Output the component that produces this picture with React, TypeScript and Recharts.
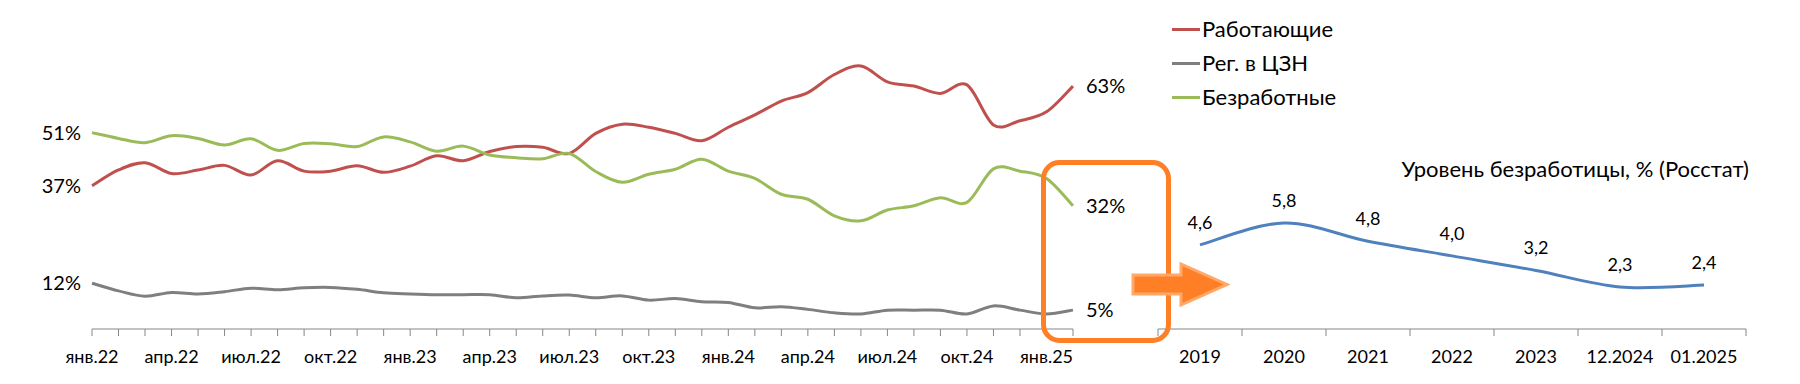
import { LineChart, Line, XAxis, YAxis, Legend, LabelList } from "recharts";

const FONT = "Lato, 'Open Sans', sans-serif";
const AXIS = "#868686";

const months = [
  "янв.22", "фев.22", "мар.22", "апр.22", "май.22", "июн.22", "июл.22", "авг.22", "сен.22", "окт.22", "ноя.22", "дек.22",
  "янв.23", "фев.23", "мар.23", "апр.23", "май.23", "июн.23", "июл.23", "авг.23", "сен.23", "окт.23", "ноя.23", "дек.23",
  "янв.24", "фев.24", "мар.24", "апр.24", "май.24", "июн.24", "июл.24", "авг.24", "сен.24", "окт.24", "ноя.24", "дек.24",
  "янв.25", "фев.25",
];
const working = [
  37.2, 41.3, 43.2, 40.4, 41.3, 42.5, 40.0, 43.7, 41.0, 41.0, 42.4, 40.7,
  42.3, 45.0, 43.7, 46.1, 47.4, 47.2, 45.6, 50.8, 53.2, 52.4, 50.8, 48.9,
  52.4, 55.6, 59.2, 61.4, 66.1, 68.3, 64.2, 63.1, 61.2, 63.4, 53.0, 54.1,
  56.4, 63.1,
];
const registered = [
  11.9, 9.9, 8.5, 9.5, 9.1, 9.7, 10.6, 10.2, 10.7, 10.8, 10.3, 9.4,
  9.1, 8.9, 8.9, 8.9, 8.1, 8.6, 8.8, 8.1, 8.6, 7.5, 7.9, 7.1,
  6.9, 5.5, 5.8, 5.1, 4.2, 3.9, 4.9, 4.9, 4.9, 3.9, 6.0, 4.9,
  3.9, 4.9,
];
const unemployed = [
  51.0, 49.5, 48.4, 50.2, 49.5, 47.8, 49.4, 46.4, 48.2, 48.1, 47.4, 49.9,
  48.6, 46.2, 47.5, 45.2, 44.5, 44.2, 45.6, 40.9, 38.1, 40.2, 41.5, 44.1,
  41.0, 39.1, 35.0, 33.7, 29.4, 28.1, 30.9, 32.0, 34.1, 32.9, 41.6, 41.0,
  39.1, 32.0,
];
const seriesNames = ["Работающие", "Рег. в ЦЗН", "Безработные"];

const years = ["2019", "2020", "2021", "2022", "2023", "12.2024", "01.2025"];
const rate = [4.6, 5.8, 4.8, 4.0, 3.2, 2.3, 2.4];

const monthlyData = months.map((m, i) => ({
  month: m,
  working: working[i],
  registered: registered[i],
  unemployed: unemployed[i],
}));
const rateData = years.map((y, i) => ({ year: y, rate: rate[i] }));

// Excel-like smoothed line (Catmull-Rom through the points)
const excelSmooth = (context: any) => {
  let pts: number[][] = [];
  return {
    areaStart() {},
    areaEnd() {},
    lineStart() {
      pts = [];
    },
    point(x: number, y: number) {
      pts.push([+x, +y]);
    },
    lineEnd() {
      if (!pts.length) return;
      context.moveTo(pts[0][0], pts[0][1]);
      for (let i = 0; i < pts.length - 1; i++) {
        const p0 = pts[Math.max(i - 1, 0)];
        const p1 = pts[i];
        const p2 = pts[i + 1];
        const p3 = pts[Math.min(i + 2, pts.length - 1)];
        context.bezierCurveTo(
          p1[0] + (p2[0] - p0[0]) / 6,
          p1[1] + (p2[1] - p0[1]) / 6,
          p2[0] - (p3[0] - p1[0]) / 6,
          p2[1] - (p3[1] - p1[1]) / 6,
          p2[0],
          p2[1]
        );
      }
    },
  };
};

const edgeLabel = (props: any) => {
  const { index, value } = props;
  const x = props.viewBox?.x ?? props.x;
  const y = props.viewBox?.y ?? props.y;
  if (index !== 0 && index !== months.length - 1) return null;
  const first = index === 0;
  return (
    <text
      key={index}
      x={first ? x - 11 : x + 13}
      y={y}
      dy={7}
      textAnchor={first ? "end" : "start"}
      fontSize={20}
      fontFamily={FONT}
      fill="#000"
    >
      {Math.round(value)}%
    </text>
  );
};

const rateLabel = (props: any) => {
  const x = props.viewBox?.x ?? props.x;
  const y = props.viewBox?.y ?? props.y;
  return (
    <text key={props.index} x={x} y={y - 16} textAnchor="middle" fontSize={18} fontFamily={FONT} fill="#000">
      {Number(props.value).toFixed(1).replace(".", ",")}
    </text>
  );
};

const RIGHT_STEP = 84;

const YearTick = (props: any) => {
  const { x, y, payload, index } = props;
  const half = RIGHT_STEP / 2;
  return (
    <g>
      <line x1={x - half} x2={x - half} y1={y - 9} y2={y - 2} stroke={AXIS} />
      {index === years.length - 1 && (
        <line x1={x + half} x2={x + half} y1={y - 9} y2={y - 2} stroke={AXIS} />
      )}
      <text x={x} y={y} dy={25} textAnchor="middle" fontSize={18} fontFamily={FONT} fill="#000">
        {payload.value}
      </text>
    </g>
  );
};

const LegendBox = (props: any) => {
  const items = [...(props.payload || [])].sort(
    (a: any, b: any) => seriesNames.indexOf(a.value) - seriesNames.indexOf(b.value)
  );
  return (
    <div>
      {items.map((p: any) => (
        <div key={p.value} style={{ display: "flex", alignItems: "center", height: 34 }}>
          <span style={{ width: 28, height: 3, background: p.color, display: "inline-block" }} />
          <span
            style={{
              marginLeft: 2,
              lineHeight: "34px",
              whiteSpace: "nowrap",
              fontFamily: FONT,
              fontSize: "22px",
              color: "#000",
            }}
          >
            {p.value}
          </span>
        </div>
      ))}
    </div>
  );
};

export default function App() {
  return (
    <div style={{ position: "absolute", left: 0, top: 0, width: 1800, height: 384, background: "#fff" }}>
      <div style={{ position: "absolute", left: 0, top: 0 }}>
        <LineChart width={1150} height={384} data={monthlyData} margin={{ top: 21, right: 77, bottom: 15, left: 92 }}>
          <XAxis
            dataKey="month"
            interval={0}
            height={40}
            stroke={AXIS}
            tickSize={7}
            tickMargin={14}
            tick={{ fontSize: 18, fill: "#000", fontFamily: FONT }}
            tickFormatter={(v: string, i: number) => (i % 3 === 0 ? v : "")}
          />
          <YAxis hide domain={[0, 80]} />
          <Legend
            layout="vertical"
            align="center"
            verticalAlign="middle"
            content={LegendBox}
            wrapperStyle={{ left: 1172, top: 12, width: 220, height: "auto" }}
          />
          <Line name={seriesNames[0]} dataKey="working" type={excelSmooth as any} stroke="#C0504D" strokeWidth={3} dot={false} activeDot={false} isAnimationActive={false}>
            <LabelList dataKey="working" content={edgeLabel} />
          </Line>
          <Line name={seriesNames[1]} dataKey="registered" type={excelSmooth as any} stroke="#7F7F7F" strokeWidth={3} dot={false} activeDot={false} isAnimationActive={false}>
            <LabelList dataKey="registered" content={edgeLabel} />
          </Line>
          <Line name={seriesNames[2]} dataKey="unemployed" type={excelSmooth as any} stroke="#9BBB59" strokeWidth={3} dot={false} activeDot={false} isAnimationActive={false}>
            <LabelList dataKey="unemployed" content={edgeLabel} />
          </Line>
        </LineChart>
      </div>

      <div style={{ position: "absolute", left: 1100, top: 0 }}>
        <LineChart width={700} height={384} data={rateData} margin={{ top: 201, right: 54, bottom: 15, left: 58 }}>
          <XAxis
            dataKey="year"
            interval={0}
            height={40}
            stroke={AXIS}
            tickSize={7}
            tickMargin={2}
            tickLine={false}
            padding={{ left: RIGHT_STEP / 2, right: RIGHT_STEP / 2 }}
            tick={YearTick}
          />
          <YAxis hide domain={[0, 7]} />
          <Line dataKey="rate" type={excelSmooth as any} stroke="#4F81BD" strokeWidth={3} dot={false} activeDot={false} isAnimationActive={false}>
            <LabelList dataKey="rate" content={rateLabel} />
          </Line>
        </LineChart>
      </div>

      <svg width={1800} height={384} style={{ position: "absolute", left: 0, top: 0, pointerEvents: "none" }}>
        <text x={1749} y={177} textAnchor="end" fontSize={22} fontFamily={FONT} fill="#000">
          Уровень безработицы, % (Росстат)
        </text>
        <rect x={1043.5} y={162.5} width={125} height={178} rx={16} fill="none" stroke="#FF7F27" strokeWidth={5} />
        <polygon
          points="1133,275 1181,275 1181,264 1227,284.5 1181,305 1181,294 1133,294"
          fill="#FF7F27"
          stroke="#FFA868"
          strokeWidth={3}
        />
      </svg>
    </div>
  );
}
